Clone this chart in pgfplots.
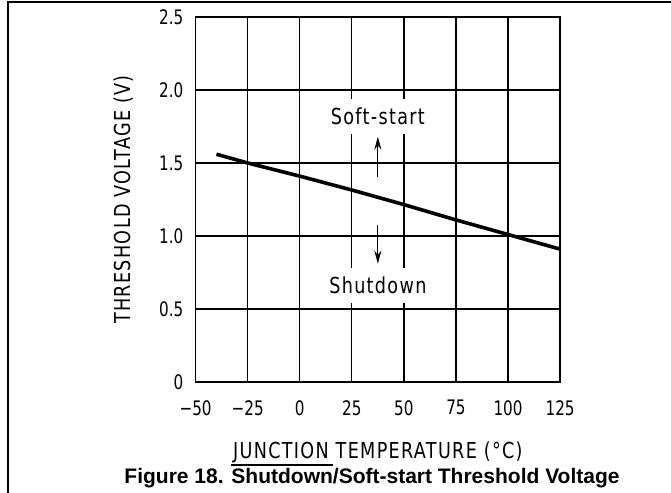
\documentclass[border=0pt]{standalone}
\usepackage{fontspec}
\usepackage{pgfplots}
\pgfplotsset{compat=1.18}
\usetikzlibrary{arrows.meta}
\setmainfont{Liberation Sans}
\newfontfamily\cadfont[FakeStretch=0.8,LetterSpace=6]{DejaVu Sans}
\newfontfamily\cadtick[FakeStretch=0.76]{DejaVu Sans}
\newcommand\lab{\cadfont\fontsize{22bp}{24bp}\selectfont}
\newcommand\tck{\cadtick\fontsize{20bp}{22bp}\selectfont}
\newcommand\ovl[1]{\leavevmode\vbox{\hrule height 1.3bp\kern 2.5bp\hbox{#1}}}
\begin{document}
\begin{tikzpicture}[x=1bp,y=1bp]
\useasboundingbox (0,0) rectangle (671,493);
\draw[line width=1.3bp] (8,0) -- (8,491) -- (671,491);
\begin{axis}[
 at={(195.6bp,111bp)}, anchor=south west, scale only axis,
 width=364.5bp, height=365bp,
 xmin=-50, xmax=125, ymin=0, ymax=2.5,
 xtick={-50,-25,0,25,50,75,100,125},
 ytick={0,0.5,1,1.5,2,2.5},
 xticklabels={−50,−25,0,25,50,75,100,125},
 yticklabels={0,0.5,1.0,1.5,2.0,2.5},
 major tick length=0pt,
 grid=major,
 major grid style={black, line width=1.25bp},
 axis line style={black, line width=1.4bp},
 xticklabel style={font=\tck, anchor=north, inner sep=0pt, yshift=-18bp},
 yticklabel style={font=\tck, anchor=east, inner sep=0pt, xshift=-12bp},
 xlabel={JUNCTION TEMPERATURE (°C)},
 ylabel={THRESHOLD VOLTAGE (V)},
 xlabel style={font=\lab, at={([yshift=-70bp]axis description cs:0.5,0)}, anchor=center},
 ylabel style={font=\lab, at={([xshift=-71.6bp]axis description cs:0,0.5)}, anchor=center},
]
\addplot[black, line width=3.6bp] coordinates {
 (-40,1.56) (-25,1.50) (0,1.41) (25,1.315) (50,1.215) (75,1.11) (100,1.01) (125,0.91)
};
\node[fill=white, inner xsep=3bp, inner ysep=0pt, minimum height=35bp, font=\lab] at (axis cs:37.5,1.82) {Soft-start};
\node[fill=white, inner xsep=3bp, inner ysep=0pt, minimum height=35bp, font=\lab] at (axis cs:37.5,0.66) {Shutdown};
\draw[black, line width=1bp, -{Stealth[length=13bp,width=7bp]}] (axis cs:37.5,1.406) -- (axis cs:37.5,1.68);
\draw[black, line width=1bp, -{Stealth[length=13bp,width=7bp]}] (axis cs:37.5,1.075) -- (axis cs:37.5,0.81);
\end{axis}
\node[font=\bfseries\fontsize{21bp}{24bp}\selectfont, inner sep=0pt] at (372,17) {Figure 18. \ovl{Shutdown}/Soft-start Threshold Voltage};
\end{tikzpicture}
\end{document}
